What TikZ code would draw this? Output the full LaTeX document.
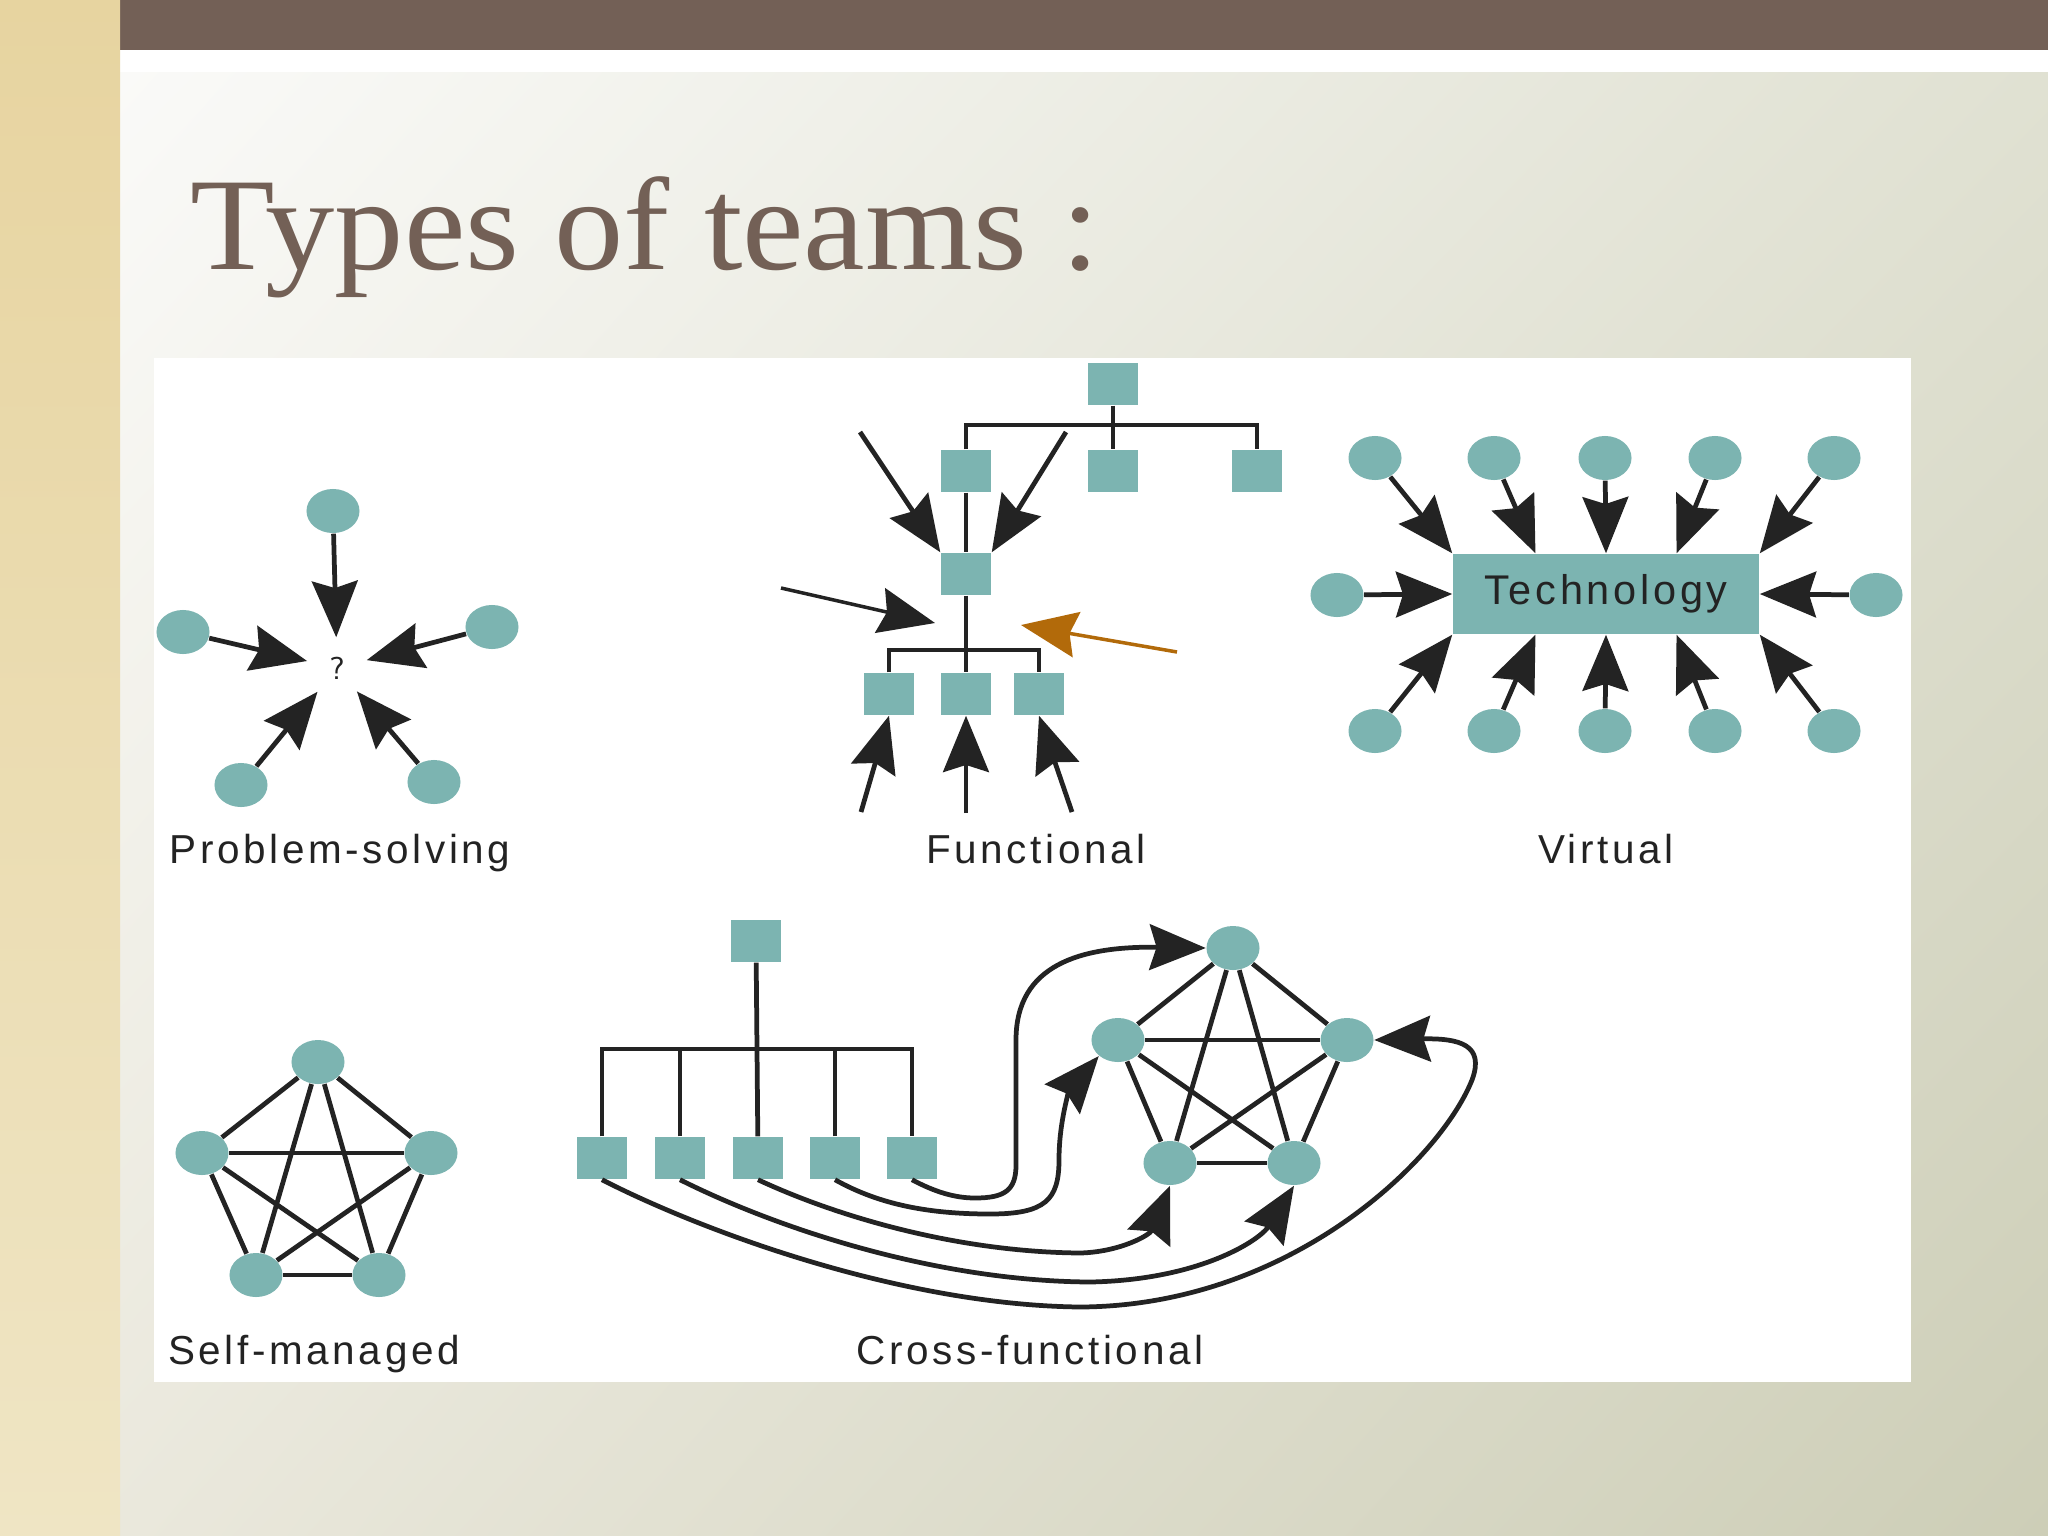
\documentclass[tikz,border=0pt]{standalone}
\usepackage{fontspec}
\usetikzlibrary{arrows.meta,shapes.geometric,shadings}
\newfontfamily\titlefont[FakeStretch=1.05]{Liberation Serif}
\newfontfamily\capfont[LetterSpace=9]{Liberation Sans}
\definecolor{teamteal}{RGB}{124,180,177}
\definecolor{ink}{RGB}{35,35,35}
\definecolor{hintorange}{RGB}{178,106,10}
\definecolor{barbrown}{RGB}{115,96,86}
\definecolor{stripbeige}{RGB}{231,212,160}
\definecolor{stripcream}{RGB}{239,229,196}
\definecolor{bgul}{RGB}{250,250,248}
\definecolor{bgur}{RGB}{224,225,210}
\definecolor{bgll}{RGB}{234,232,220}
\definecolor{bglr}{RGB}{205,206,183}
\begin{document}
\begin{tikzpicture}[%
    x = 0.01cm, y = -0.01cm,
    person/.style = {ellipse, fill = teamteal, minimum width = 0.53cm, minimum height = 0.44cm, inner sep = 0pt},
    box/.style = {rectangle, fill = teamteal, minimum width = 0.5cm, minimum height = 0.42cm, inner sep = 0pt},
    tech/.style = {rectangle, fill = teamteal, minimum width = 3.06cm, minimum height = 0.8cm, inner sep = 0pt, text = ink, font = \capfont\fontsize{11.8}{13}\selectfont},
    tie/.style = {draw = ink, line width = 1.35pt},
    arr/.style = {tie, -{Stealth[length = 16pt, width = 13pt, inset = 2pt]}},
    teamname/.style = {anchor = base, inner sep = 0pt, text = ink, font = \capfont\fontsize{11.5}{13}\selectfont}]

    % slide
    \useasboundingbox (0, 0) rectangle (2048, 1536);
    \shade[upper left = bgul, upper right = bgur, lower left = bgll, lower right = bglr]
        (120, 72) rectangle (2048, 1536);
    \fill[white] (120, 50) rectangle (2048, 72);
    \fill[barbrown] (120, 0) rectangle (2048, 50);
    \shade[top color = stripbeige, bottom color = stripcream] (0, 0) rectangle (120, 1536);
    \node[anchor = base west, inner sep = 0pt, text = barbrown, font = \titlefont\fontsize{37.5}{40}\selectfont] (title) at (190, 269) {Types of teams :};
    \fill[white] (154, 358) rectangle (1911, 1382);

    % problem-solving
    \node[person] (pt) at (333, 511) {};
    \node[person] (pl) at (183, 632) {};
    \node[person] (pr) at (492, 627) {};
    \node[person] (pbl) at (241, 785) {};
    \node[person] (pbr) at (434, 782) {};
    \node[circle, minimum size = 0.6cm, inner sep = 0pt, text = ink, font = \sffamily\fontsize{9}{10}\selectfont] (q) at (337, 668) {?};
    \foreach \p in {pt, pl, pr, pbl, pbr}
        \draw[arr] (\p) -- (q);
    \node[teamname] (pname) at (340, 863) {Problem-solving};

    % functional
    \node[box] (ftop) at (1113, 384) {};
    \node[box] (fr1) at (966, 471) {};
    \node[box] (fr2) at (1113, 471) {};
    \node[box] (fr3) at (1257, 471) {};
    \node[box] (fmid) at (966, 574) {};
    \node[box] (fb1) at (889, 694) {};
    \node[box] (fb2) at (966, 694) {};
    \node[box] (fb3) at (1039, 694) {};
    \coordinate (fbar) at (1113, 425);
    \coordinate (flow) at (966, 650);
    \draw[tie] (ftop) -- (fr2);
    \draw[tie] (fr1.north) |- (fbar) -| (fr3.north);
    \draw[tie] (fr1) -- (fmid);
    \draw[tie] (fmid) -- (fb2);
    \draw[tie] (fb1.north) |- (flow) -| (fb3.north);
    \coordinate (ful) at (860, 432);
    \coordinate (fur) at (1066, 432);
    \coordinate (fl) at (781, 588);
    \coordinate (fltip) at (935, 623);
    \coordinate (fo) at (1177, 652);
    \coordinate (fotip) at (1021, 625);
    \coordinate (fd1) at (861, 812);
    \coordinate (fd2) at (966, 813);
    \coordinate (fd3) at (1072, 812);
    \draw[arr] (ful) -- (fmid.north west);
    \draw[arr] (fur) -- (fmid.north east);
    \draw[arr, line width = 1pt] (fl) -- (fltip);
    \draw[arr, line width = 1pt, draw = hintorange] (fo) -- (fotip);
    \draw[arr] (fd1) -- (fb1.south);
    \draw[arr] (fd2) -- (fb2.south);
    \draw[arr] (fd3) -- (fb3.south);
    \node[teamname] (fname) at (1036, 863) {Functional};

    % virtual
    \node[tech] (tech) at (1606, 594) {Technology};
    \foreach \x [count = \i] in {1375, 1494, 1605, 1715, 1834} {
        \node[person] (vt\i) at (\x, 458) {};
        \node[person] (vb\i) at (\x, 731) {};
    }
    \node[person] (vl) at (1337, 595) {};
    \node[person] (vr) at (1876, 595) {};
    \foreach \i/\a in {1/north west, 2/150, 3/north, 4/30, 5/north east}
        \draw[arr] (vt\i) -- (tech.\a);
    \foreach \i/\a in {1/south west, 2/210, 3/south, 4/330, 5/south east}
        \draw[arr] (vb\i) -- (tech.\a);
    \draw[arr] (vl) -- (tech.west);
    \draw[arr] (vr) -- (tech.east);
    \node[teamname] (vname) at (1606, 863) {Virtual};

    % self-managed
    \node[person] (s1) at (318, 1062) {};
    \node[person] (s2) at (202, 1153) {};
    \node[person] (s3) at (431, 1153) {};
    \node[person] (s4) at (256, 1275) {};
    \node[person] (s5) at (379, 1275) {};
    \foreach \a/\b in {s1/s2, s1/s3, s1/s4, s1/s5, s2/s3, s2/s4, s2/s5, s3/s4, s3/s5, s4/s5}
        \draw[tie] (\a) -- (\b);
    \node[teamname] (sname) at (314, 1364) {Self-managed};

    % cross-functional
    \node[box] (ctop) at (756, 941) {};
    \foreach \x [count = \i] in {602, 680, 758, 835, 912}
        \node[box] (c\i) at (\x, 1158) {};
    \coordinate (cbar) at (758, 1049);
    \draw[tie] (ctop) -- (c3);
    \draw[tie] (c1.north) |- (cbar) -| (c5.north);
    \draw[tie] (c2.north) -- (c2.north |- cbar);
    \draw[tie] (c4.north) -- (c4.north |- cbar);
    \node[person] (kt) at (1233, 948) {};
    \node[person] (kl) at (1118, 1040) {};
    \node[person] (kr) at (1347, 1040) {};
    \node[person] (kbl) at (1170, 1163) {};
    \node[person] (kbr) at (1294, 1163) {};
    \foreach \a/\b in {kt/kl, kt/kr, kt/kbl, kt/kbr, kl/kr, kl/kbl, kl/kbr, kr/kbl, kr/kbr, kbl/kbr}
        \draw[tie] (\a) -- (\b);
    \draw[arr] (c5.south) .. controls (935, 1192) and (955, 1198) .. (975, 1198)
        .. controls (1005, 1198) and (1016, 1190) .. (1016, 1165) -- (1016, 1040)
        .. controls (1016, 965) and (1080, 946) .. (kt.west);
    \draw[arr] (c4.south) .. controls (880, 1205) and (930, 1214) .. (990, 1214)
        .. controls (1045, 1214) and (1059, 1200) .. (1059, 1160)
        .. controls (1059, 1120) and (1070, 1090) .. (kl.south west);
    \draw[arr] (c3.south) .. controls (840, 1218) and (960, 1252) .. (1080, 1253)
        .. controls (1120, 1252) and (1150, 1235) .. (kbl.south);
    \draw[arr] (c2.south) .. controls (770, 1225) and (930, 1281) .. (1090, 1282)
        .. controls (1200, 1280) and (1260, 1240) .. (kbr.south);
    \draw[arr] (c1.south) .. controls (700, 1230) and (900, 1305) .. (1080, 1307)
        .. controls (1290, 1306) and (1440, 1160) .. (1472, 1080)
        .. controls (1485, 1045) and (1460, 1038) .. (kr.east);
    \node[teamname] (cname) at (1030, 1364) {Cross-functional};
\end{tikzpicture}
\end{document}
